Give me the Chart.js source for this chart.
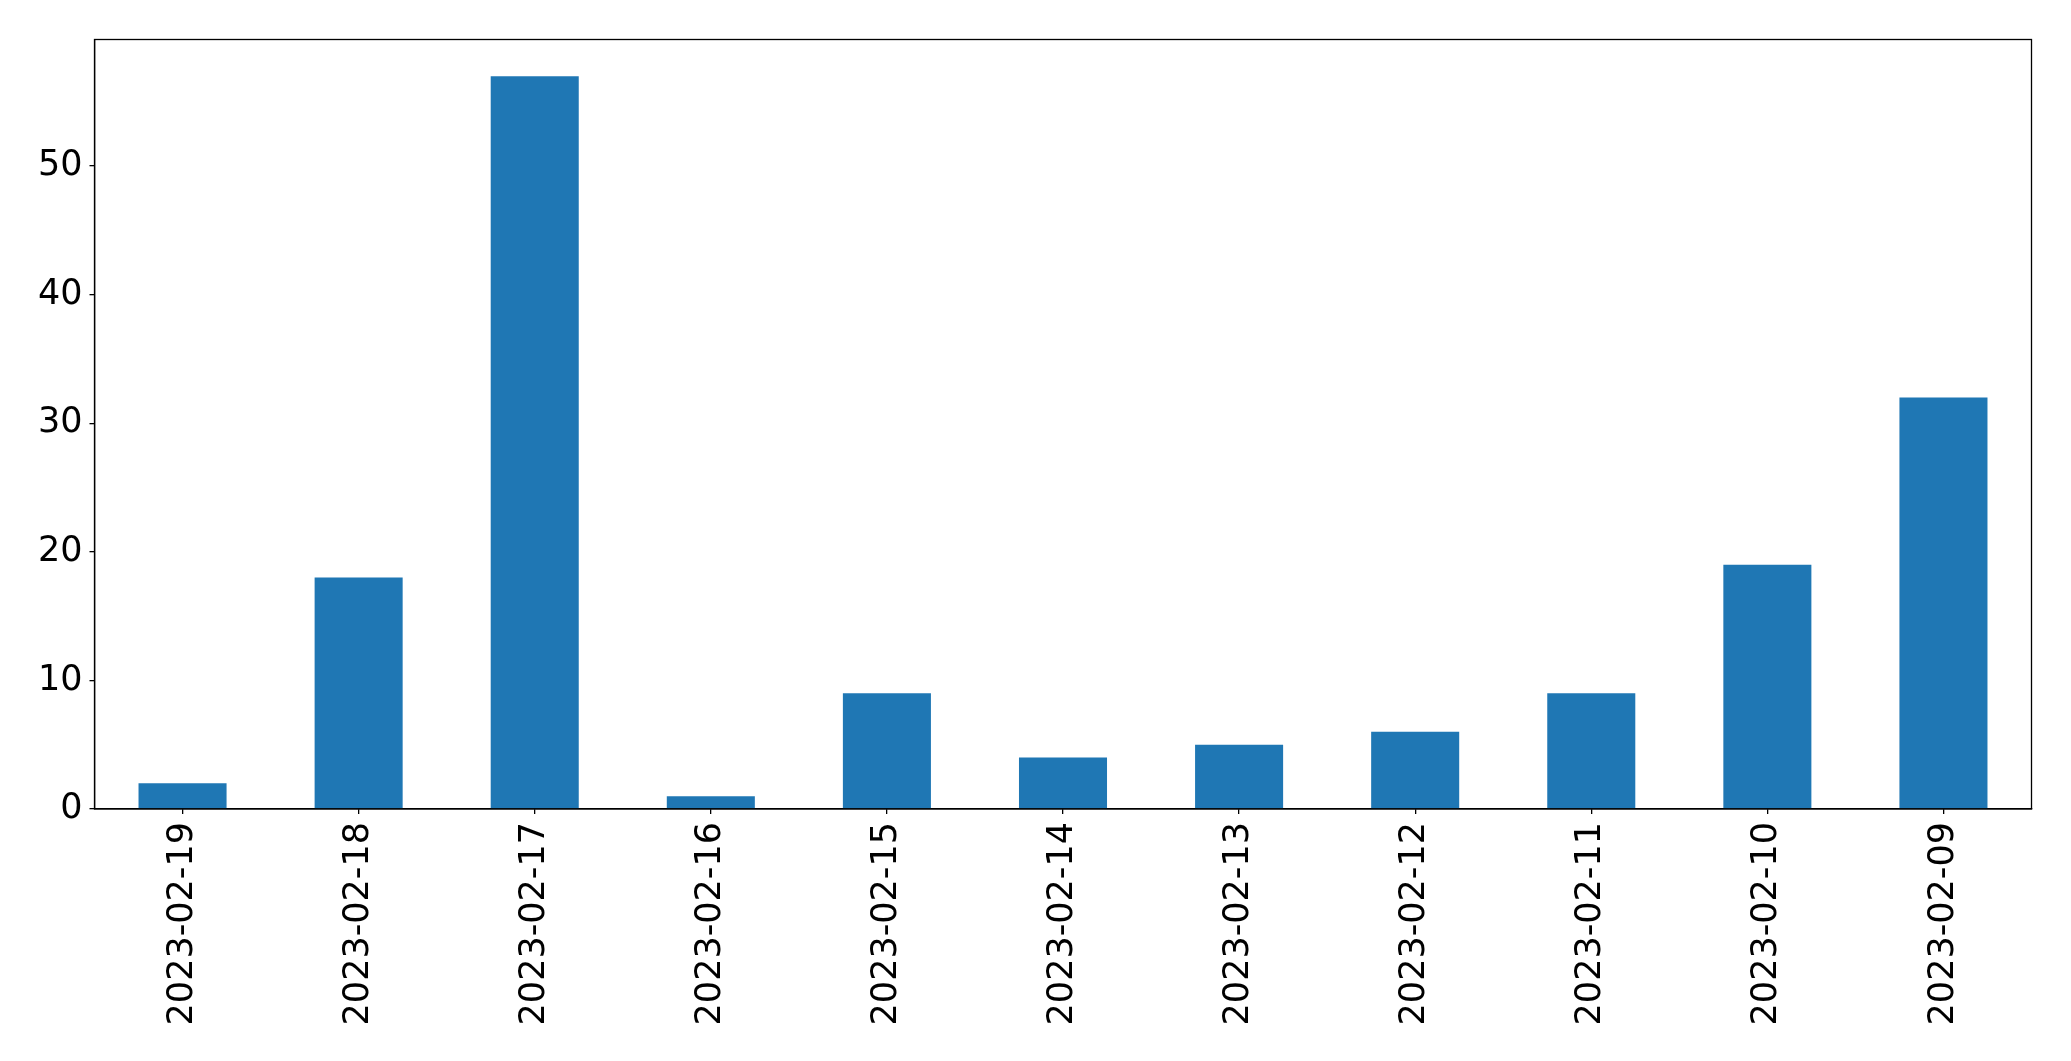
<!DOCTYPE html>
<html>
<head>
<meta charset="utf-8">
<script src="https://cdn.jsdelivr.net/npm/chart.js@4/dist/chart.umd.min.js"></script>
<style>
html,body{margin:0;padding:0;background:#fff;}
canvas{display:block;}
</style>
</head>
<body>
<canvas id="c" width="2071" height="1061"></canvas>
<script>
const categories = ["2023-02-19","2023-02-18","2023-02-17","2023-02-16","2023-02-15","2023-02-14","2023-02-13","2023-02-12","2023-02-11","2023-02-10","2023-02-09"];
const counts = [2, 18, 57, 1, 9, 4, 5, 6, 9, 19, 32];
const yTicks = [0, 10, 20, 30, 40, 50];
const yMax = 59.85;

const frame = {
  id: 'frame',
  afterDraw(chart) {
    const a = chart.chartArea, ctx = chart.ctx;
    ctx.save();
    ctx.strokeStyle = '#000';
    ctx.lineWidth = 1.3;
    ctx.strokeRect(a.left, a.top, a.right - a.left, a.bottom - a.top);
    ctx.restore();
  }
};

new Chart(document.getElementById('c'), {
  type: 'bar',
  data: {
    labels: categories,
    datasets: [{
      data: counts,
      backgroundColor: '#1f77b4',
      borderWidth: 0,
      barPercentage: 0.5,
      categoryPercentage: 1.0
    }]
  },
  options: {
    responsive: false,
    animation: false,
    layout: { padding: { left: 0, right: 39.5, top: 39.5, bottom: 0 } },
    plugins: { legend: { display: false }, tooltip: { enabled: false } },
    scales: {
      x: {
        offset: true,
        grid: { display: true, offset: false, drawOnChartArea: false, drawTicks: true, tickLength: 5, color: '#000', lineWidth: 1.3 },
        border: { display: true, color: '#000', width: 1.3 },
        ticks: {
          color: '#000', minRotation: 90, maxRotation: 90, autoSkip: false, padding: 8,
          font: { family: 'DejaVu Sans', size: 35 }
        },
        afterFit(s) { s.height = 252; }
      },
      y: {
        min: 0, max: yMax,
        grid: { display: true, drawOnChartArea: false, drawTicks: true, tickLength: 5, color: '#000', lineWidth: 1.3 },
        border: { display: true, color: '#000', width: 1.3 },
        ticks: {
          color: '#000', padding: 7, stepSize: 10,
          font: { family: 'DejaVu Sans', size: 35 }
        },
        afterBuildTicks(s) { s.ticks = yTicks.map(v => ({ value: v })); },
        afterFit(s) { s.width = 94.5; }
      }
    }
  },
  plugins: [frame]
});
</script>
</body>
</html>
